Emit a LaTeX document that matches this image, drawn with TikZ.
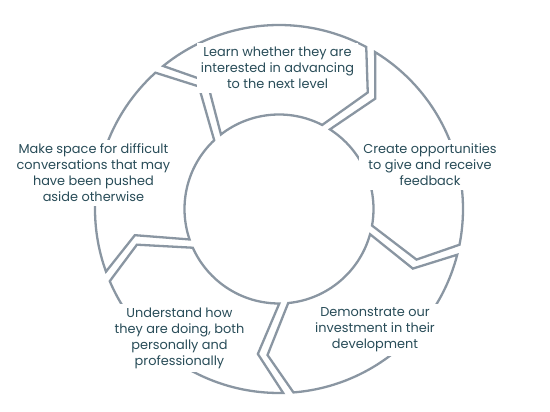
\documentclass[tikz,border=0pt]{standalone}
\usepackage{fontspec}
\setmainfont{Poppins}
\usetikzlibrary{positioning}
\definecolor{ringgray}{RGB}{138,150,162}
\definecolor{labelteal}{RGB}{40,76,88}

\begin{document}
\begin{tikzpicture}[
  x=1pt, y=1pt,
  seg/.style={draw=ringgray, line width=2.3pt, fill=white},
  lbl/.style={fill=white, inner sep=4pt, align=center, text=labelteal, font=\fontsize{12.9}{16}\selectfont},
]
\useasboundingbox (0,0) rectangle (550,412);

% === RING SEGMENTS (clockwise) ===
\begin{scope}[shift={(279,203)}]
  \draw[seg] (129.0:184) arc[start angle=129.0, end angle=61.7, radius=184] -- (52.7:146.5) -- (62.8:94.5)
    arc[start angle=62.8, end angle=127.9, radius=94.5] -- (119.4:146.5) -- cycle;
  \draw[seg] (58.5:184) arc[start angle=58.5, end angle=-11.2, radius=184] -- (-20.2:146.5) -- (-10.1:94.5)
    arc[start angle=-10.1, end angle=57.4, radius=94.5] -- (48.9:146.5) -- cycle;
  \draw[seg] (-14.4:184) arc[start angle=-14.4, end angle=-85.5, radius=184] -- (-94.5:146.5) -- (-84.4:94.5)
    arc[start angle=-84.4, end angle=-15.5, radius=94.5] -- (-24.0:146.5) -- cycle;
  \draw[seg] (-88.7:184) arc[start angle=-88.7, end angle=-156.9, radius=184] -- (-165.9:146.5) -- (-155.8:94.5)
    arc[start angle=-155.8, end angle=-89.8, radius=94.5] -- (-98.3:146.5) -- cycle;
  \draw[seg] (-160.1:184) arc[start angle=-160.1, end angle=-227.8, radius=184] -- (-236.8:146.5) -- (-226.7:94.5)
    arc[start angle=-226.7, end angle=-161.2, radius=94.5] -- (-169.7:146.5) -- cycle;
\end{scope}

% === LABELS ===
\node[lbl] (learn) at (277.5,344) {Learn whether they are\\interested in advancing\\to the next level};
\node[lbl] (create) at (430,247) {Create opportunities\\to give and receive\\feedback};
\node[lbl] (demonstrate) at (375,82) {Demonstrate our\\investment in their\\development};
\node[lbl] (understand) at (179.5,74) {Understand how\\they are doing, both\\personally and\\professionally};
\node[lbl] (makespace) at (93.4,239) {Make space for difficult\\conversations that may\\have been pushed\\aside otherwise};

\end{tikzpicture}
\end{document}
